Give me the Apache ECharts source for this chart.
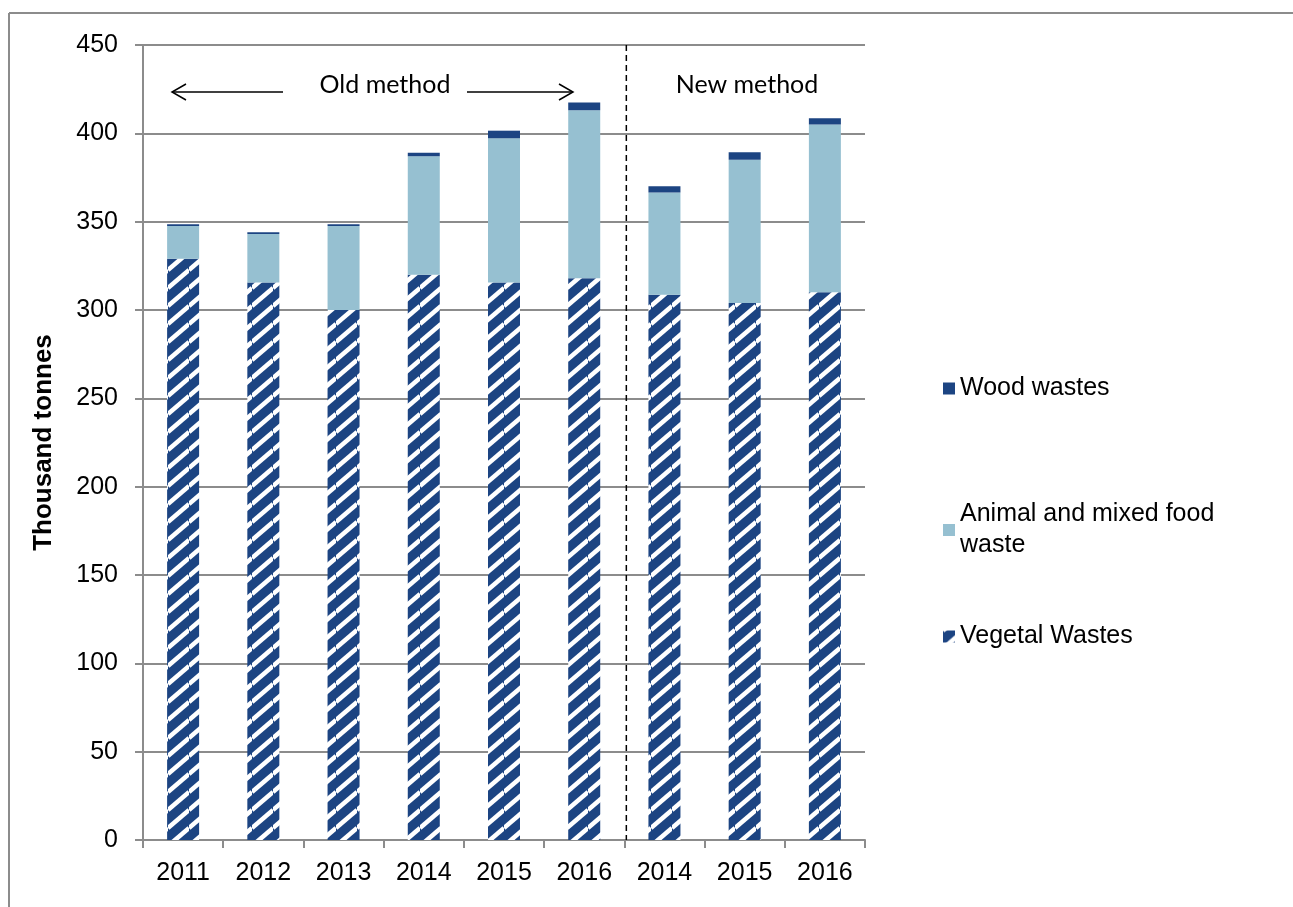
<!DOCTYPE html>
<html>
<head>
<meta charset="utf-8">
<title>Food and wood wastes</title>
<script src="https://cdn.jsdelivr.net/npm/echarts@6/dist/echarts.min.js"></script>
<style>
  html, body { margin: 0; padding: 0; background: #ffffff; }
  #chart { width: 1293px; height: 907px; }
</style>
</head>
<body>
<div id="chart"></div>
<script>
// Years, split into the old and new estimation methods
const categories = ['2011', '2012', '2013', '2014', '2015', '2016', '2014', '2015', '2016'];

// Thousand tonnes per waste stream
const vegetalWastes = [329, 315.5, 300, 320, 315.5, 318, 308.7, 304, 310];
const animalFoodWaste = [18.5, 27.5, 47.5, 67, 81.7, 95, 57.8, 81, 95];
const woodWastes = [1, 1, 1, 2, 4.3, 4.5, 3.5, 4.3, 3.5];

const yTicks = { min: 0, max: 450, interval: 50 };

const NAVY = '#1c4482';
const LIGHT = '#96c0d1';
const AXIS_GREY = '#8c8c8c';
const FONT = '"Liberation Sans", Arial, sans-serif';
const ANNOT_FONT = 'Lato, "Open Sans", sans-serif';

// Diagonal navy/white stripes for the vegetal series
function stripeTile() {
  const w = 21, h = 18;
  const c = document.createElement('canvas');
  c.width = w; c.height = h;
  const ctx = c.getContext('2d');
  ctx.fillStyle = NAVY;
  ctx.fillRect(0, 0, w, h);
  ctx.strokeStyle = '#ffffff';
  ctx.lineWidth = 4.5;
  for (let k = -1; k <= 1; k++) {
    ctx.beginPath();
    ctx.moveTo(0, h + k * h);
    ctx.lineTo(w, k * h);
    ctx.stroke();
  }
  return c;
}
const stripes = { image: stripeTile(), repeat: 'repeat' };

const chart = echarts.init(document.getElementById('chart'));

const legendText = {
  fontFamily: FONT, fontSize: 25, color: '#000', lineHeight: 31
};
function oneLegend(name, top) {
  return {
    data: [name], orient: 'vertical', left: 938, top: top,
    itemWidth: 12, itemHeight: 12, icon: 'rect',
    textStyle: legendText, selectedMode: false,
    formatter: n => n === 'Animal and mixed food waste' ? 'Animal and mixed food\nwaste' : n
  };
}

chart.setOption({
  animation: false,
  backgroundColor: '#ffffff',
  grid: { left: 143, top: 45, right: 428, bottom: 67, containLabel: false },
  legend: [
    oneLegend('Wood wastes', 368),
    oneLegend('Animal and mixed food waste', 494),
    oneLegend('Vegetal Wastes', 616)
  ],
  xAxis: {
    type: 'category',
    data: categories,
    axisLine: { lineStyle: { color: AXIS_GREY, width: 2 } },
    axisTick: { show: true, length: 8, alignWithLabel: false, lineStyle: { color: AXIS_GREY, width: 2 } },
    axisLabel: { color: '#000', fontFamily: FONT, fontSize: 25, margin: 21 }
  },
  yAxis: {
    type: 'value',
    min: yTicks.min, max: yTicks.max, interval: yTicks.interval,
    name: 'Thousand tonnes',
    nameLocation: 'middle',
    nameGap: 86,
    nameTextStyle: { fontFamily: FONT, fontSize: 26, fontWeight: 'bold', color: '#000' },
    axisLine: { show: true, lineStyle: { color: AXIS_GREY, width: 2 } },
    axisTick: { show: true, length: 8, lineStyle: { color: AXIS_GREY, width: 2 } },
    axisLabel: { color: '#000', fontFamily: FONT, fontSize: 25, margin: 25 },
    splitLine: { lineStyle: { color: AXIS_GREY, width: 2 } }
  },
  series: [
    {
      name: 'Vegetal Wastes', type: 'bar', stack: 'total', barWidth: 32,
      data: vegetalWastes, itemStyle: { color: stripes }
    },
    {
      name: 'Animal and mixed food waste', type: 'bar', stack: 'total', barWidth: 32,
      data: animalFoodWaste, itemStyle: { color: LIGHT }
    },
    {
      name: 'Wood wastes', type: 'bar', stack: 'total', barWidth: 32,
      data: woodWastes, itemStyle: { color: NAVY }
    }
  ]
});

// Annotations: outer frame, method divider, arrows and labels
const gridTop = chart.convertToPixel({ yAxisIndex: 0 }, yTicks.max);
const gridBottom = chart.convertToPixel({ yAxisIndex: 0 }, yTicks.min);
const xOld = chart.convertToPixel({ xAxisIndex: 0 }, 5);
const xNew = chart.convertToPixel({ xAxisIndex: 0 }, 6);
const divider = (xOld + xNew) / 2 + 2;

const arrowY = 92;
function arrow(x1, x2) {
  const dir = Math.sign(x2 - x1);
  return [
    { type: 'line', shape: { x1: x1, y1: arrowY, x2: x2, y2: arrowY }, style: { stroke: '#000', lineWidth: 1.5 } },
    { type: 'polyline', shape: { points: [[x2 - dir * 14, arrowY - 8], [x2, arrowY], [x2 - dir * 14, arrowY + 8]] },
      style: { stroke: '#000', lineWidth: 1.5, fill: null } }
  ];
}

chart.setOption({
  graphic: [
    { type: 'line', shape: { x1: 9, y1: 13, x2: 1293, y2: 13 }, style: { stroke: '#8c8c8c', lineWidth: 2 } },
    { type: 'line', shape: { x1: 9, y1: 13, x2: 9, y2: 907 }, style: { stroke: '#8c8c8c', lineWidth: 2 } },
    { type: 'line', shape: { x1: divider, y1: gridTop, x2: divider, y2: gridBottom },
      style: { stroke: '#000', lineWidth: 1.5, lineDash: [6, 4] }, z: 10 },
    ...arrow(283, 172),
    ...arrow(467, 573),
    { type: 'text', x: 385, y: 85, style: { text: 'Old method', font: '25px ' + ANNOT_FONT, fill: '#000', align: 'center', verticalAlign: 'middle' } },
    { type: 'text', x: 747, y: 85, style: { text: 'New method', font: '25px ' + ANNOT_FONT, fill: '#000', align: 'center', verticalAlign: 'middle' } }
  ]
});
</script>
</body>
</html>
